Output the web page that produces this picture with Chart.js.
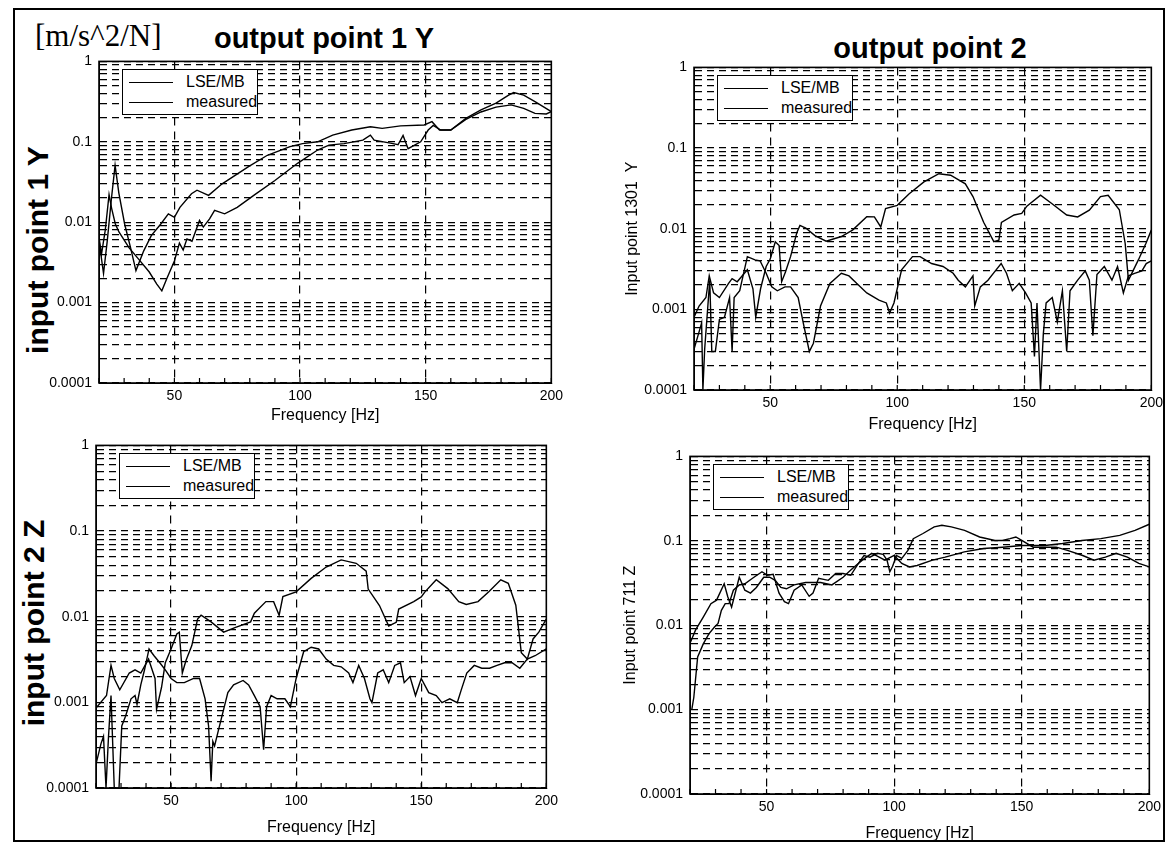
<!DOCTYPE html>
<html>
<head>
<meta charset="utf-8">
<script src="https://cdn.jsdelivr.net/npm/chart.js@4.4.1/dist/chart.umd.min.js"></script>
<style>
  body { margin: 0; background: #fff; width: 1172px; height: 848px; position: relative; overflow: hidden;
         font-family: Arial, "Liberation Sans", Helvetica, sans-serif; color: #000; }
  .frame { position: absolute; left: 13px; top: 8px; width: 1152px; height: 834px; border: 2px solid #000; box-sizing: border-box; }
  .txt { position: absolute; white-space: nowrap; line-height: 1; }
  .rot { transform: translate(-50%, -50%) rotate(-90deg); }
  .ctr { transform: translate(-50%, -50%); }
  canvas { position: absolute; }
  .legend { position: absolute; width: 136px; height: 46px; box-sizing: border-box; border: 1.5px solid #000;
            background: #fff; padding-top: 2px; font-size: 16px; }
  .row { position: relative; height: 20px; line-height: 20px; padding-left: 63px; }
  .ln { position: absolute; left: 6px; top: 10px; width: 44px; border-top: 1.4px solid #000; }
</style>
</head>
<body>
<div class="frame"></div>
<div class="txt" style="left:35px;top:20px;font-family:'Liberation Serif','Times New Roman',serif;font-size:31px;">[m/s^2/N]</div>
<div class="txt ctr" style="left:324px;top:38px;font-size:29px;font-weight:bold;">output point 1 Y</div>
<div class="txt ctr" style="left:930px;top:48px;font-size:29px;font-weight:bold;">output point 2</div>
<div class="txt rot" style="left:38px;top:250px;font-size:30px;font-weight:bold;">input point 1 Y</div>
<div class="txt rot" style="left:34px;top:623px;font-size:30px;font-weight:bold;">input point 2 Z</div>

<canvas id="tl"></canvas>
<canvas id="tr"></canvas>
<canvas id="bl"></canvas>
<canvas id="br"></canvas>

<script>
// axis ticks
const xTicks = [20, 30, 40, 50, 60, 70, 80, 90, 100, 110, 120, 130, 140, 150, 160, 170, 180, 190, 200];
const xLabels = [50, 100, 150, 200];
const xGridAt = [50, 100, 150];
const yTicks = [];
[-4, -3, -2, -1].forEach(e => { for (let m = 1; m <= 9; m++) yTicks.push(m * Math.pow(10, e)); });
yTicks.push(1);
const seriesNames = ['LSE/MB', 'measured'];

// output point 1 Y / input point 1 Y
const tlLseFreq = [20, 21.8, 23.3, 24.9, 26.4, 27.9, 30.2, 32.5, 34.7, 37.8, 40.8, 44.6, 47.6, 50, 52.2, 56.8, 59, 63.6, 69, 79.5, 87, 96, 101, 107, 113, 120.6, 128, 132.7, 140, 149.4, 152.5, 155.5, 160, 166, 172, 178, 183, 185, 189, 193.5, 200];
const tlLseVal = [0.0059, 0.0023, 0.0059, 0.019, 0.051, 0.023, 0.0095, 0.0049, 0.0025, 0.0044, 0.0068, 0.0095, 0.0127, 0.0115, 0.0153, 0.0226, 0.025, 0.0216, 0.03, 0.049, 0.068, 0.087, 0.095, 0.1, 0.121, 0.14, 0.154, 0.147, 0.158, 0.162, 0.178, 0.14, 0.14, 0.196, 0.249, 0.302, 0.38, 0.41, 0.38, 0.316, 0.237];
const tlMeasFreq = [20, 21, 22.5, 24, 25, 26.5, 28, 32, 36, 40, 43, 45, 47, 50, 52, 53.5, 55, 57, 60, 61.5, 64, 66, 70, 75, 82, 90, 99, 107, 111.5, 117.5, 125, 128, 129.5, 137, 139, 141, 143, 148, 151, 153, 156, 160, 166, 172, 178, 184, 189, 193.5, 198, 200];
const tlMeasVal = [0.0065, 0.004, 0.008, 0.022, 0.015, 0.0095, 0.0075, 0.0048, 0.0034, 0.0024, 0.0017, 0.0014, 0.002, 0.0033, 0.0055, 0.0045, 0.0062, 0.0058, 0.0105, 0.0087, 0.011, 0.014, 0.0127, 0.0153, 0.022, 0.033, 0.054, 0.079, 0.091, 0.095, 0.105, 0.121, 0.105, 0.095, 0.092, 0.12, 0.082, 0.1, 0.14, 0.16, 0.14, 0.14, 0.19, 0.235, 0.27, 0.288, 0.26, 0.226, 0.222, 0.237];

// output point 2 / Input point 1301 Y
const trLseFreq = [20, 22, 24.7, 26, 27.7, 30, 33.6, 35, 37, 41, 43.2, 44.3, 46.2, 48.4, 50, 52, 53.5, 54.5, 56, 58, 60.5, 61.7, 64, 67.6, 72, 78, 82.4, 88, 91, 93.5, 95.4, 100, 104.6, 110.5, 116.4, 121, 126.8, 129.8, 134, 138, 140, 141, 146, 149, 151, 156.4, 160.8, 166.7, 171, 175.6, 180, 183, 187.4, 189.7, 191, 194.9, 197.9, 200];
const trLseVal = [0.0008, 0.0011, 0.0014, 0.0026, 0.0016, 0.0014, 0.0021, 0.0024, 0.0022, 0.0031, 0.0018, 0.0008, 0.0018, 0.0034, 0.0042, 0.0069, 0.0062, 0.0022, 0.0029, 0.0045, 0.009, 0.011, 0.0102, 0.0082, 0.007, 0.008, 0.0096, 0.0141, 0.014, 0.0105, 0.0178, 0.0195, 0.027, 0.038, 0.048, 0.046, 0.036, 0.025, 0.012, 0.0069, 0.0072, 0.012, 0.0148, 0.0155, 0.019, 0.026, 0.0205, 0.0148, 0.014, 0.017, 0.025, 0.026, 0.0172, 0.0066, 0.0023, 0.0041, 0.0066, 0.0096];
const trMeasFreq = [20, 21.8, 23, 23.5, 24.2, 26.2, 27, 28.4, 30, 32, 34, 35, 35.8, 38, 41, 44, 46, 48.4, 50.6, 52.8, 55.8, 58, 61, 63, 65.4, 67, 69.8, 73.5, 78, 81, 84, 88, 92.8, 95.7, 97, 98.7, 101.7, 106, 109, 113.5, 118, 122, 124, 126.8, 129.8, 130.5, 132.7, 135.7, 138.6, 140.9, 143, 145.3, 148, 150.5, 152.7, 154, 155, 156.4, 157.5, 158.6, 161, 163, 165, 166.7, 168, 171, 174, 175.6, 177, 178.6, 181.5, 184.5, 186.7, 189, 191, 193.4, 196.3, 198, 200];
const trMeasVal = [0.00032, 0.0005, 0.00068, 0.0001, 0.00032, 0.0023, 0.0003, 0.0003, 0.00075, 0.0008, 0.0014, 0.0003, 0.0014, 0.0017, 0.0045, 0.0041, 0.004, 0.0028, 0.0019, 0.0017, 0.0019, 0.0019, 0.0014, 0.00068, 0.0003, 0.00038, 0.0011, 0.0021, 0.0028, 0.0026, 0.0021, 0.0016, 0.0013, 0.0012, 0.0009, 0.0012, 0.0031, 0.0045, 0.0045, 0.0037, 0.0034, 0.0028, 0.0023, 0.0019, 0.0026, 0.0011, 0.0019, 0.0023, 0.003, 0.0037, 0.0028, 0.0017, 0.0021, 0.0016, 0.0012, 0.00026, 0.0012, 0.0001, 0.0005, 0.0012, 0.0014, 0.0007, 0.0017, 0.0003, 0.0017, 0.0023, 0.003, 0.0023, 0.00047, 0.0027, 0.0034, 0.0023, 0.0034, 0.0016, 0.0026, 0.0028, 0.003, 0.0037, 0.004];

// input point 2 Z
const blLseFreq = [20, 24.2, 26, 27.3, 29.5, 33.3, 35.6, 37.9, 41, 43.6, 44.2, 46.2, 47.7, 50, 52.3, 53.3, 54.5, 56, 58.3, 60.6, 62, 66, 71, 75.8, 81.8, 83.3, 87.9, 91, 93.2, 94.7, 100, 106, 112, 118, 124, 128, 128.8, 133.3, 137, 140, 141, 147, 150, 151.5, 156, 160.6, 165, 168, 172.7, 177, 181.8, 184.8, 187.8, 190, 192.4, 194.7, 197, 200];
const blLseVal = [0.00086, 0.0012, 0.0027, 0.0019, 0.0014, 0.0022, 0.0024, 0.0022, 0.0032, 0.0019, 0.00083, 0.0015, 0.0029, 0.0042, 0.0063, 0.0066, 0.0022, 0.0031, 0.0046, 0.0094, 0.0104, 0.0087, 0.0066, 0.0075, 0.0087, 0.011, 0.015, 0.015, 0.0104, 0.0172, 0.0195, 0.028, 0.038, 0.046, 0.042, 0.034, 0.021, 0.0135, 0.0078, 0.0086, 0.0123, 0.015, 0.017, 0.0195, 0.027, 0.0213, 0.015, 0.0139, 0.015, 0.0195, 0.027, 0.0245, 0.0136, 0.0038, 0.0032, 0.0055, 0.0066, 0.0094];
const blMeasFreq = [20, 22, 23, 24, 25, 26, 27.3, 28.5, 29.2, 30.3, 31.8, 34, 35.6, 36.4, 37.9, 39.4, 41.2, 43.2, 45.5, 47.7, 50, 52.3, 55.3, 59, 61.4, 63.6, 65, 66, 66.7, 67.4, 69, 72.7, 75, 78.8, 81, 83.3, 85.6, 87, 88.2, 90, 92.4, 95.5, 97.7, 100, 103, 106, 109, 112, 115, 118, 121, 122.7, 125, 127.3, 129.5, 130.3, 132.6, 134.8, 137, 139.4, 141.7, 143.2, 145.5, 147.7, 150, 153, 156, 158.3, 161.4, 164.4, 166, 168.2, 171.2, 174.2, 177.3, 180.3, 183.3, 186.3, 189.4, 192.4, 195.5, 200];
const blMeasVal = [0.00019, 0.00033, 0.0004, 0.0001, 0.0004, 0.0012, 0.0001, 0.0001, 0.0001, 0.00053, 0.00069, 0.0011, 0.0012, 0.00095, 0.0016, 0.0024, 0.0042, 0.0035, 0.0029, 0.0024, 0.0019, 0.0017, 0.0017, 0.0019, 0.0019, 0.0011, 0.00053, 0.00012, 0.00035, 0.00031, 0.00048, 0.0013, 0.0016, 0.0018, 0.0016, 0.0012, 0.00089, 0.00028, 0.00089, 0.0012, 0.0011, 0.0011, 0.00089, 0.0019, 0.0039, 0.0044, 0.0042, 0.0032, 0.0027, 0.0026, 0.0022, 0.0017, 0.0027, 0.0019, 0.0011, 0.00099, 0.0022, 0.0024, 0.0017, 0.0027, 0.0029, 0.0017, 0.002, 0.0012, 0.0019, 0.0013, 0.0012, 0.00099, 0.0011, 0.00099, 0.0014, 0.0022, 0.0027, 0.0025, 0.0025, 0.0027, 0.0029, 0.0029, 0.0025, 0.0032, 0.0035, 0.0042];

// Input point 711 Z
const brLseFreq = [20, 22.2, 25.2, 28.2, 30.4, 33.4, 34.8, 36.3, 39.3, 41.5, 43.7, 46, 48.9, 51.2, 53.4, 55.6, 57.8, 60.8, 65.3, 71.2, 75.6, 80, 83, 87.5, 91.2, 93.4, 96.4, 100, 103, 106, 109, 115, 120, 127.5, 135, 142.5, 150, 159, 166, 173.6, 181, 188.4, 194.4, 200];
const brLseVal = [0.0061, 0.0088, 0.0125, 0.018, 0.0198, 0.031, 0.0217, 0.0164, 0.037, 0.026, 0.024, 0.028, 0.037, 0.037, 0.034, 0.028, 0.027, 0.03, 0.032, 0.032, 0.03, 0.037, 0.045, 0.059, 0.071, 0.066, 0.059, 0.067, 0.054, 0.049, 0.051, 0.059, 0.064, 0.074, 0.081, 0.084, 0.088, 0.088, 0.093, 0.101, 0.106, 0.116, 0.133, 0.157];
const brMeasFreq = [20.7, 21.5, 23, 25.2, 27.4, 29.6, 31, 32.3, 33.8, 35.3, 37, 39.3, 41.5, 44.5, 48.2, 50.4, 52.6, 54.9, 57, 58.6, 60.8, 63.8, 66.7, 68.2, 70.4, 74.2, 77.1, 80, 83, 86, 88.2, 90.5, 93.4, 95.7, 97.2, 98.3, 99.4, 100.9, 103, 105.4, 107.5, 111.3, 115.7, 118.7, 122.4, 127.6, 133.5, 139.5, 142.4, 145.4, 147.7, 150, 154.5, 159, 163.5, 167.9, 173.9, 178.3, 182.8, 187, 191.4, 195.9, 200];
const brMeasVal = [0.001, 0.0014, 0.0042, 0.006, 0.0079, 0.0095, 0.0105, 0.015, 0.018, 0.018, 0.026, 0.03, 0.031, 0.036, 0.043, 0.039, 0.04, 0.024, 0.019, 0.018, 0.026, 0.03, 0.022, 0.024, 0.036, 0.034, 0.041, 0.041, 0.039, 0.054, 0.067, 0.064, 0.071, 0.069, 0.059, 0.043, 0.05, 0.067, 0.062, 0.077, 0.106, 0.122, 0.146, 0.153, 0.146, 0.133, 0.111, 0.101, 0.101, 0.106, 0.111, 0.101, 0.084, 0.084, 0.084, 0.077, 0.067, 0.059, 0.064, 0.071, 0.064, 0.054, 0.049];

function pts(fs, vs) { return fs.map((f, i) => ({ x: f, y: vs[i] })); }

function yLabel(v) {
  const l = Math.log10(v);
  if (Math.abs(l - Math.round(l)) > 1e-6) return '';
  return String(Number(v.toPrecision(1)));
}

const framePlugin = {
  id: 'frame',
  afterDraw(chart) {
    const { ctx, chartArea: a } = chart;
    const x = chart.scales.x;
    ctx.save();
    ctx.strokeStyle = '#000';
    ctx.lineWidth = 1.6;
    ctx.strokeRect(a.left, a.top, a.right - a.left, a.bottom - a.top);
    ctx.lineWidth = 1.2;
    ctx.beginPath();
    xTicks.forEach(v => {
      const px = x.getPixelForValue(v);
      ctx.moveTo(px, a.bottom);
      ctx.lineTo(px, a.bottom - 5);
    });
    ctx.stroke();
    ctx.restore();
  }
};

function makePlot(id, box, lse, meas, yTitle, lpad, titlePad, bpad) {
  const tpad = 12, rpad = 16;
  const cv = document.getElementById(id);
  cv.width = box.w + lpad + rpad;
  cv.height = box.h + tpad + bpad;
  cv.style.left = (box.x - lpad) + 'px';
  cv.style.top = (box.y - tpad) + 'px';

  new Chart(cv, {
    type: 'line',
    data: {
      datasets: [
        { label: seriesNames[0], data: lse, borderColor: '#000', borderWidth: 1.4 },
        { label: seriesNames[1], data: meas, borderColor: '#000', borderWidth: 1.4 }
      ]
    },
    options: {
      responsive: false,
      animation: false,
      parsing: false,
      layout: { padding: { top: tpad, right: rpad, left: 0, bottom: 0 } },
      elements: { point: { radius: 0 }, line: { tension: 0 } },
      plugins: { legend: { display: false }, tooltip: { enabled: false } },
      scales: {
        x: {
          type: 'linear', min: 20, max: 200,
          afterBuildTicks: s => { s.ticks = xTicks.map(v => ({ value: v })); },
          afterFit: s => { s.height = bpad; },
          ticks: {
            autoSkip: false, maxRotation: 0, padding: 5, color: '#000',
            font: { family: 'Arial', size: 14 },
            callback: v => xLabels.includes(v) ? String(v) : ''
          },
          grid: {
            drawTicks: false, lineWidth: 1.2,
            color: c => (c.tick && xGridAt.includes(c.tick.value)) ? '#000' : 'rgba(0,0,0,0)'
          },
          border: { color: '#000', width: 1, dash: [8, 6] },
          title: { display: true, text: 'Frequency [Hz]', color: '#000',
                   font: { family: 'Arial', size: 16 }, padding: { top: 0, bottom: 2 } }
        },
        y: {
          type: 'logarithmic', min: 1e-4, max: 1,
          afterBuildTicks: s => { s.ticks = yTicks.map(v => ({ value: v })); },
          afterFit: s => { s.width = lpad; },
          ticks: {
            autoSkip: false, padding: 7, color: '#000',
            font: { family: 'Arial', size: 14 },
            callback: v => yLabel(v)
          },
          grid: { drawTicks: false, color: '#000', lineWidth: 1.2 },
          border: { color: '#000', width: 1, dash: [7, 5] },
          title: { display: !!yTitle, text: yTitle || '', color: '#000',
                   font: { family: 'Arial', size: 16 }, padding: { top: titlePad, bottom: 0 } }
        }
      }
    },
    plugins: [framePlugin]
  });

  const lg = document.createElement('div');
  lg.className = 'legend';
  lg.style.left = (box.x + 23) + 'px';
  lg.style.top = (box.y + 11) + 'px';
  seriesNames.forEach(n => {
    const r = document.createElement('div');
    r.className = 'row';
    r.innerHTML = '<span class="ln"></span>' + n;
    lg.appendChild(r);
  });
  document.body.appendChild(lg);
}

makePlot('tl', { x: 99, y: 58, w: 453, h: 325 }, pts(tlLseFreq, tlLseVal), pts(tlMeasFreq, tlMeasVal), null, 60, 0, 44);
makePlot('tr', { x: 694, y: 64, w: 458, h: 326 }, pts(trLseFreq, trLseVal), pts(trMeasFreq, trMeasVal), 'Input point 1301  Y', 74, 3, 46);
makePlot('bl', { x: 96, y: 442, w: 451, h: 346 }, pts(blLseFreq, blLseVal), pts(blMeasFreq, blMeasVal), null, 60, 0, 51);
makePlot('br', { x: 690, y: 453, w: 460, h: 341 }, pts(brLseFreq, brLseVal), pts(brMeasFreq, brMeasVal), 'Input point 711 Z', 72, 3, 51);
</script>
</body>
</html>
